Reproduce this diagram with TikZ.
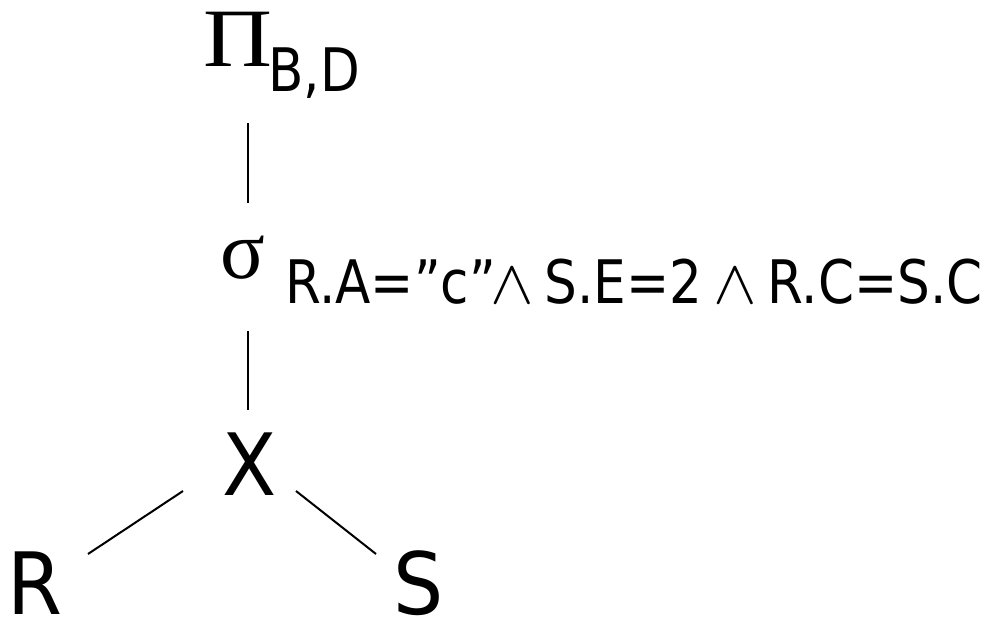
\documentclass[tikz,border=0pt]{standalone}
\usepackage{fontspec}
\setmainfont[FakeStretch=0.86]{DejaVu Sans}
\newfontfamily\bigfont[FakeStretch=0.92]{DejaVu Sans}
\newfontfamily\greekfont{Liberation Serif}
\newfontfamily\greekwide[FakeStretch=1.15]{Liberation Serif}
\newfontfamily\lmm[FakeStretch=1.1]{Latin Modern Math}
\usetikzlibrary{calc}
\newcommand{\andsym}{\kern-6pt{\lmm\fontsize{62}{62}\selectfont ∧}\kern-7pt}
\tikzset{
  lbl/.style={inner sep=0pt, outer sep=0pt, anchor=base west},
  big/.style={font=\bigfont\fontsize{86}{86}\selectfont},
  sub/.style={font=\fontsize{60}{60}\selectfont},
  grk/.style={font=\greekfont\fontsize{83}{83}\selectfont},
  grkw/.style={font=\greekwide\fontsize{83}{83}\selectfont},
  edge/.style={line width=2pt, black},
}
\begin{document}
\begin{tikzpicture}[x=1pt,y=-1pt]
\useasboundingbox (0,0) rectangle (988,617);
\node[lbl,grkw] (pi) at (203.5,67) {Π};
\node[lbl,sub] (pisub) at (268.5,91.5) {B,D};
\node[lbl,grk] (sigma) at (220.5,279) {σ};
\node[lbl,sub] (sigsub) at (285,303.5) {R.A=”c”\andsym{} S.E=2 \andsym{} R.C=S.C};
\node[lbl,big,anchor=base] (x) at (249.3,495) {X};
\node[lbl,big] (r) at (8,614) {R};
\node[lbl,big] (s) at (393,614) {S};
\draw[edge] ($(x.base |- pi.base)+(-1.3,56)$) -- ($(x.base |- sigma.base)+(-1.3,-76)$);
\draw[edge] ($(x.base |- sigma.base)+(-1.3,52)$) -- ($(x.north)+(-1.3,-22)$);
\draw[edge] ($(x.base)+(-66.3,-4)$) -- ($(r.base west)+(80,-60)$);
\draw[edge] ($(x.base)+(46.7,-4)$) -- ($(s.base west)+(-17,-60)$);
\end{tikzpicture}
\end{document}
